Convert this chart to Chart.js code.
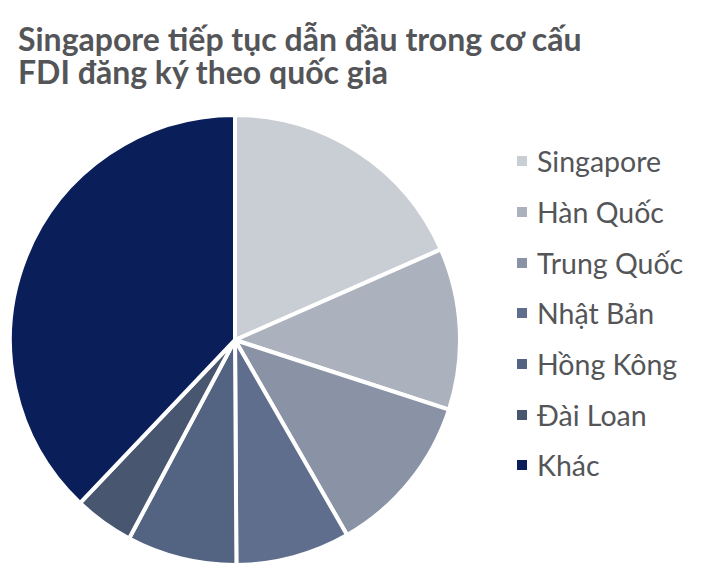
<!DOCTYPE html>
<html>
<head>
<meta charset="utf-8">
<script src="https://cdn.jsdelivr.net/npm/chart.js@4"></script>
<style>
  body { margin: 0; background: #fff; width: 709px; height: 588px; position: relative; overflow: hidden; font-family: Lato, sans-serif; }
  #title { position: absolute; left: 18px; top: 22px; font-size: 32px; font-weight: bold; color: #545558; line-height: 33px; }
  #pieBox { position: absolute; left: 8px; top: 113px; width: 454px; height: 454px; }
  #legend { position: absolute; left: 517px; top: 136px; list-style: none; margin: 0; padding: 0; }
  #legend li { height: 50.7px; line-height: 38px; font-size: 28.5px; color: #545558; display: flex; align-items: center; }
  #legend li span.box { display: inline-block; width: 10px; height: 10px; margin-right: 10px; }
</style>
</head>
<body>
<div id="title">Singapore tiếp tục dẫn đầu trong cơ cấu<br>FDI đăng ký theo quốc gia</div>
<div id="pieBox"><canvas id="fdiPie"></canvas></div>
<ul id="legend"></ul>
<script>
const countries = ['Singapore', 'Hàn Quốc', 'Trung Quốc', 'Nhật Bản', 'Hồng Kông', 'Đài Loan', 'Khác'];
const shares = [18.4, 11.6, 11.7, 8.2, 7.9, 4.3, 37.9];
const colors = ['#c9cdd4', '#abb1bd', '#8a93a5', '#5e6e8c', '#536382', '#485670', '#0a1e5a'];

const legend = document.getElementById('legend');
countries.forEach(function (name, i) {
    const li = document.createElement('li');
    const box = document.createElement('span');
    box.className = 'box';
    box.style.background = colors[i];
    li.appendChild(box);
    li.appendChild(document.createTextNode(name));
    legend.appendChild(li);
});

const ctx = document.getElementById('fdiPie').getContext('2d');
let chart = new Chart(ctx, {
    type: 'pie',
    data: {
        labels: countries,
        datasets: [{
            data: shares,
            backgroundColor: colors,
            borderColor: '#ffffff',
            borderWidth: 4
        }]
    },
    options: {
        responsive: true,
        maintainAspectRatio: false,
        animation: false,
        layout: { padding: 0 },
        plugins: {
            legend: { display: false },
            tooltip: { enabled: false }
        }
    }
});
</script>
</body>
</html>
